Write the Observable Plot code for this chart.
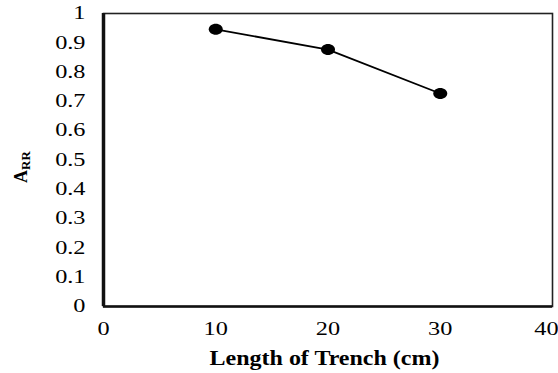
<!DOCTYPE html>
<html>
<head>
<meta charset="utf-8">
<script src="https://cdn.jsdelivr.net/npm/d3@7"></script>
<script src="https://cdn.jsdelivr.net/npm/@observablehq/plot@0.6"></script>
<style>
  html, body { margin: 0; padding: 0; background: #fff; }
  #chart svg { display: block; }
  #chart svg text { font-family: "Liberation Serif", "Times New Roman", serif; }
</style>
</head>
<body>
<div id="chart"></div>
<script>
const lengths = [10, 20, 30];
const arrValues = [0.946, 0.877, 0.727];
const xTicks = [0, 10, 20, 30, 40];
const yTicks = [0, 0.1, 0.2, 0.3, 0.4, 0.5, 0.6, 0.7, 0.8, 0.9, 1];
const xTitle = "Length of Trench (cm)";
const yTitleMain = "A";
const yTitleSub = "RR";

const data = lengths.map((x, i) => ({x, y: arrValues[i]}));

const W = 558, H = 373;
const mL = 103, mT = 13, mR = 6, mB = 67;
const SERIF = "Liberation Serif, serif";

// ellipse symbol (the reference dots are slightly wider than tall)
const ellipse = {
  draw(ctx, size) {
    const rx = 7, ry = 5.5, k = 0.5523;
    ctx.moveTo(rx, 0);
    ctx.bezierCurveTo(rx, ry * k, rx * k, ry, 0, ry);
    ctx.bezierCurveTo(-rx * k, ry, -rx, ry * k, -rx, 0);
    ctx.bezierCurveTo(-rx, -ry * k, -rx * k, -ry, 0, -ry);
    ctx.bezierCurveTo(rx * k, -ry, rx, -ry * k, rx, 0);
    ctx.closePath();
  }
};

const plot = Plot.plot({
  width: W,
  height: H,
  marginLeft: mL,
  marginTop: mT,
  marginRight: mR,
  marginBottom: mB,
  style: {fontSize: "18px", color: "#000", background: "#fff"},
  x: {domain: [0, 40], ticks: xTicks, tickSize: 0, tickPadding: 16, label: null},
  y: {domain: [0, 1], ticks: yTicks, tickSize: 0, tickPadding: 18, label: null, tickFormat: d => String(+d.toFixed(1))},
  marks: [
    Plot.frame({stroke: "#222", strokeWidth: 1.6}),
    Plot.ruleX([0], {stroke: "#111", strokeWidth: 3.5}),
    Plot.ruleY([0], {stroke: "#111", strokeWidth: 2.6}),
    Plot.line(data, {x: "x", y: "y", stroke: "#000", strokeWidth: 1.8}),
    Plot.dot(data, {x: "x", y: "y", symbol: ellipse, fill: "#000", stroke: "none"})
  ]
});

document.getElementById("chart").appendChild(plot);

const svg = d3.select(plot);
svg.attr("font-family", SERIF).attr("font-size", 18);
// widen tick label glyphs to match the reference's horizontal stretch
const xLabels = svg.selectAll("g[aria-label='x-axis tick label'] text").nodes();
svg.selectAll("g[aria-label='x-axis tick label'] text, g[aria-label='y-axis tick label'] text").each(function() {
  const t = this.getAttribute("transform") || "";
  const shift = this === xLabels[xLabels.length - 1] ? " translate(-6,0)" : "";
  this.setAttribute("transform", (t + shift + " scale(1.35,1)").trim());
  this.setAttribute("font-size", 18);
  this.setAttribute("fill", "#000");
});

const xs = plot.scale("x");
const cx = (xs.apply(0) + xs.apply(40)) / 2 - 3;
svg.append("text")
  .attr("transform", `translate(${cx},365) scale(1.2,1)`)
  .attr("text-anchor", "middle")
  .attr("font-weight", "bold")
  .attr("font-size", 20)
  .attr("fill", "#000")
  .text(xTitle);

const yt = svg.append("text")
  .attr("transform", "translate(27,167) rotate(-90)")
  .attr("text-anchor", "middle")
  .attr("font-weight", "bold")
  .attr("font-size", 18)
  .attr("fill", "#000");
yt.append("tspan").text(yTitleMain);
yt.append("tspan").attr("font-size", 13).attr("dy", 3).text(yTitleSub);
</script>
</body>
</html>
